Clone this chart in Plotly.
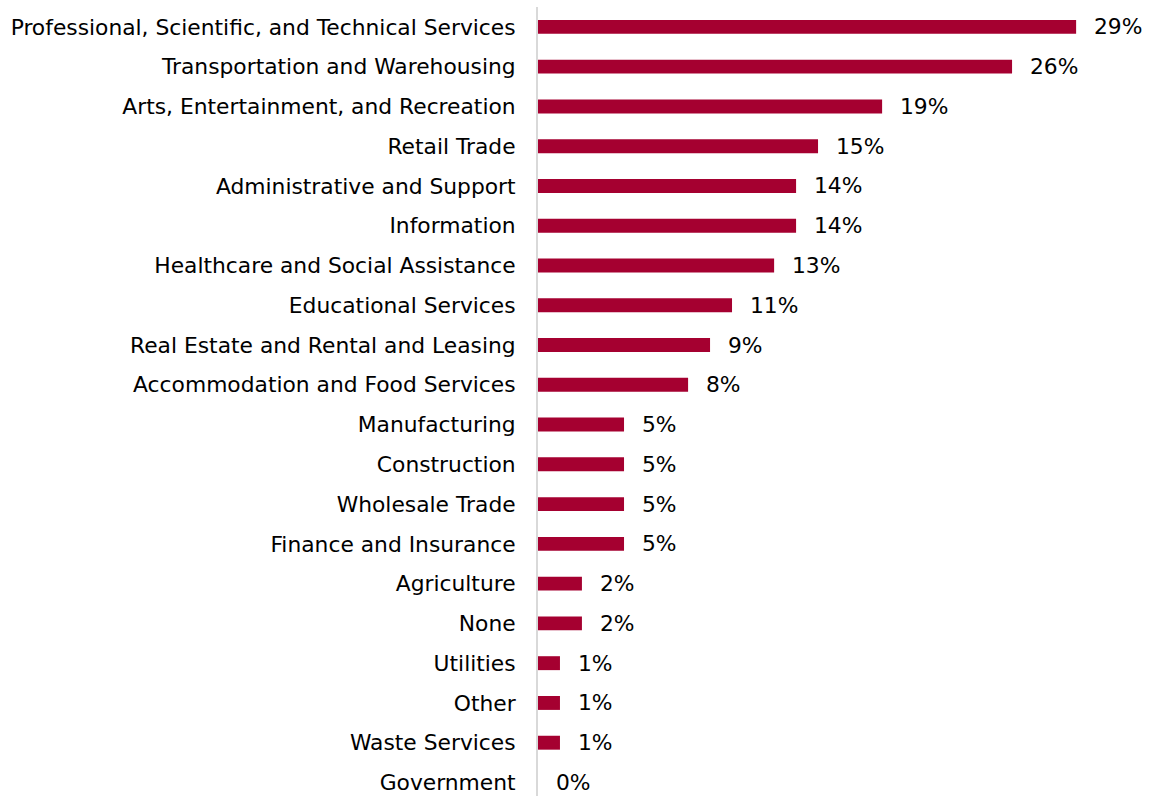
import plotly.graph_objects as go

# Share of respondents by industry (percent), ordered top to bottom
industries = [
    "Professional, Scientific, and Technical Services",
    "Transportation and Warehousing",
    "Arts, Entertainment, and Recreation",
    "Retail Trade",
    "Administrative and Support",
    "Information",
    "Healthcare and Social Assistance",
    "Educational Services",
    "Real Estate and Rental and Leasing",
    "Accommodation and Food Services",
    "Manufacturing",
    "Construction",
    "Wholesale Trade",
    "Finance and Insurance",
    "Agriculture",
    "None",
    "Utilities",
    "Other",
    "Waste Services",
    "Government",
]
shares = [29.4, 25.9, 18.8, 15.3, 14.1, 14.1, 12.9, 10.6, 9.4, 8.2,
          4.7, 4.7, 4.7, 4.7, 2.4, 2.4, 1.2, 1.2, 1.2, 0.0]

BAR_COLOR = "#A50030"
FONT = "DejaVu Sans"
FONT_SIZE = 21.8

fig = go.Figure(
    go.Bar(
        x=shares,
        y=industries,
        orientation="h",
        marker=dict(color=BAR_COLOR, line=dict(width=0)),
        width=0.35,
        hoverinfo="skip",
    )
)

# value labels placed just past each bar end
for name, v in zip(industries, shares):
    fig.add_annotation(
        x=v, y=name, xref="x", yref="y",
        text=f"{v:.0f}%",
        showarrow=False,
        xanchor="left",
        xshift=16,
        font=dict(family=FONT, size=FONT_SIZE, color="#000000"),
    )

fig.update_layout(
    width=1153,
    height=796,
    margin=dict(l=538, r=0, t=7, b=0),
    paper_bgcolor="white",
    plot_bgcolor="white",
    showlegend=False,
    font=dict(family=FONT, size=FONT_SIZE, color="#000000"),
)
fig.update_xaxes(
    range=[0, 33.6],
    visible=False,
    showgrid=False,
    zeroline=False,
)
fig.update_yaxes(
    type="category",
    range=[19.34, -0.5],
    showline=True,
    linecolor="#D9D9D9",
    linewidth=2,
    showgrid=False,
    ticks="",
    ticklabelstandoff=16,
    tickfont=dict(family=FONT, size=FONT_SIZE, color="#000000"),
)

fig.write_html("out.html")
